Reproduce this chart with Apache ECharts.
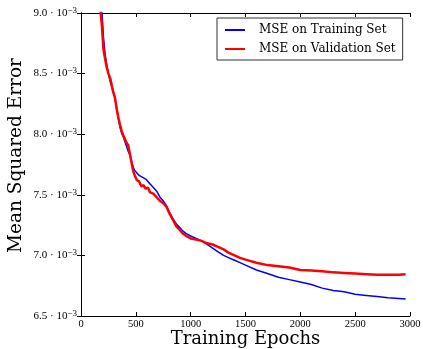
<!DOCTYPE html>
<html>
<head>
<meta charset="utf-8">
<script src="https://cdn.jsdelivr.net/npm/echarts@6/dist/echarts.min.js"></script>
<style>
html,body{margin:0;padding:0;background:#fff;}
#chart{width:423px;height:349px;}
</style>
</head>
<body>
<div id="chart"></div>
<script>
// Training epochs (x)
const epochs = [150,175,190,205,220,235,250,270,290,310,325,340,355,370,385,400,415,430,445,460,475,490,510,530,550,570,590,610,630,660,690,720,750,780,810,840,870,900,930,960,1000,1050,1100,1150,1200,1250,1300,1350,1400,1450,1500,1600,1700,1800,1900,2000,2100,2200,2300,2400,2500,2600,2700,2800,2900,2960];
// MSE values in units of 1e-3
const trainMSE = [9.35,9.12,9.03,8.80,8.66,8.57,8.50,8.42,8.37,8.30,8.22,8.13,8.06,8.01,7.98,7.94,7.90,7.86,7.83,7.78,7.73,7.70,7.68,7.66,7.65,7.64,7.63,7.61,7.59,7.56,7.53,7.48,7.45,7.41,7.35,7.30,7.26,7.23,7.20,7.18,7.16,7.14,7.12,7.09,7.06,7.03,7.00,6.98,6.96,6.94,6.92,6.88,6.85,6.82,6.80,6.78,6.76,6.73,6.71,6.70,6.68,6.67,6.66,6.65,6.645,6.64];
const validMSE = [9.30,9.05,8.90,8.70,8.62,8.55,8.50,8.45,8.36,8.30,8.21,8.14,8.08,8.03,7.99,7.96,7.93,7.91,7.84,7.77,7.70,7.66,7.62,7.61,7.57,7.58,7.55,7.56,7.52,7.51,7.48,7.45,7.43,7.40,7.34,7.29,7.24,7.21,7.18,7.16,7.14,7.13,7.12,7.10,7.09,7.07,7.05,7.02,7.00,6.98,6.965,6.94,6.92,6.91,6.90,6.88,6.875,6.87,6.86,6.855,6.85,6.845,6.84,6.84,6.84,6.845];
const xTicks = [0,500,1000,1500,2000,2500,3000];
const yTicks = [6.5,7.0,7.5,8.0,8.5,9.0];
const seriesNames = ['MSE on Training Set','MSE on Validation Set'];

const FONT = '"Liberation Serif","DejaVu Serif",serif';
const WIDEFONT = '"DejaVu Serif",serif';
const chart = echarts.init(document.getElementById('chart'), null, {renderer:'canvas'});
const pair = (xs, ys) => xs.map((x,i)=>[x, ys[i]]);

const axisLine = {show:true, lineStyle:{color:'#000', width:1}};
const tick = {show:true, inside:true, length:4, lineStyle:{color:'#000', width:1}};

chart.setOption({
  animation:false,
  backgroundColor:'#fff',
  grid:{left:81, right:13, top:13, bottom:33, containLabel:false, outerBoundsMode:'none'},
  legend:{
    orient:'vertical', left:217, top:18,
    data:seriesNames,
    icon:'rect',
    itemWidth:20, itemHeight:2, itemGap:5,
    padding:[5,7,4,8],
    borderColor:'#333', borderWidth:1, borderRadius:0,
    backgroundColor:'#fff',
    textStyle:{fontFamily:WIDEFONT, fontSize:12, color:'#000', padding:[0,0,0,9], lineHeight:14}
  },
  xAxis:[{
    type:'value', min:0, max:3000, interval:500,
    axisLine, axisTick:tick, splitLine:{show:false},
    axisLabel:{fontFamily:FONT, fontSize:10.5, color:'#000', margin:3,
      formatter:v=>String(v)},
    name:'Training Epochs', nameLocation:'middle', nameGap:14.5, nameMoveOverlap:false,
    nameTextStyle:{fontFamily:WIDEFONT, fontSize:18, color:'#000', verticalAlign:'top'}
  },{
    type:'value', position:'top', min:0, max:3000, interval:500,
    axisLine, axisTick:tick, axisLabel:{show:false}, splitLine:{show:false}
  }],
  yAxis:[{
    type:'value', min:6.5, max:9.0, interval:0.5,
    axisLine, axisTick:tick, splitLine:{show:false},
    axisLabel:{
      margin:4,
      formatter:v=>'{m|'+v.toFixed(1)+' · 10}{s|−3}',
      rich:{
        m:{fontFamily:FONT, fontSize:11, color:'#000', lineHeight:14},
        s:{fontFamily:FONT, fontSize:9, color:'#000', verticalAlign:'top', lineHeight:14}
      }
    },
    name:'Mean Squared Error', nameLocation:'middle', nameGap:55, nameRotate:90, nameMoveOverlap:false,
    nameTextStyle:{fontFamily:WIDEFONT, fontSize:18.5, color:'#000', padding:[0,0,0,18]}
  },{
    type:'value', position:'right', min:6.5, max:9.0, interval:0.5,
    axisLine, axisTick:tick, axisLabel:{show:false}, splitLine:{show:false}
  }],
  series:[{
    name:seriesNames[0], type:'line', xAxisIndex:0, yAxisIndex:0,
    data:pair(epochs, trainMSE), symbol:'none', clip:true,
    lineStyle:{color:'#0000ff', width:1.5}, itemStyle:{color:'#0000ff'}, z:2
  },{
    name:seriesNames[1], type:'line', xAxisIndex:0, yAxisIndex:0,
    data:pair(epochs, validMSE), symbol:'none', clip:true,
    lineStyle:{color:'#ff0000', width:2.5}, itemStyle:{color:'#ff0000'}, z:3
  }]
});
</script>
</body>
</html>
